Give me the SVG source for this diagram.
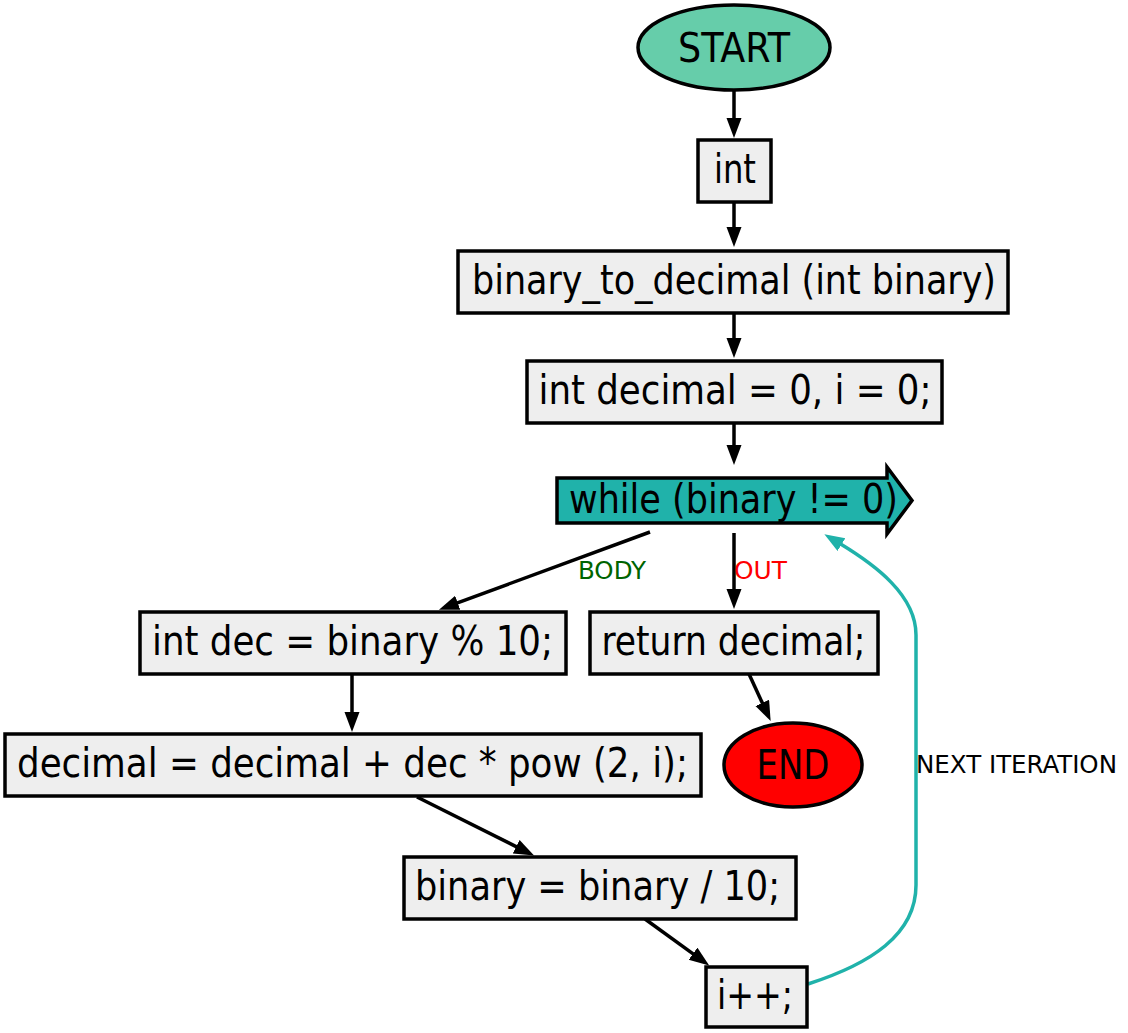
<svg xmlns="http://www.w3.org/2000/svg" width="1128" height="1033" viewBox="0 0 1128 1033">
<style>
  .box { fill: #eeeeee; stroke: #000; stroke-width: 3.5; }
  .lbl { font-family: "DejaVu Sans", "Liberation Sans", sans-serif; font-stretch: condensed; font-size: 40px; fill: #000; text-anchor: middle; }
  .elbl { font-family: "DejaVu Sans", "Liberation Sans", sans-serif; font-stretch: condensed; font-size: 25px; }
  .edge { fill: none; stroke: #000; stroke-width: 3.5; }
  .loop { fill: none; stroke: #20b2aa; stroke-width: 3.5; }
</style>
<defs>
  <marker id="ah" markerUnits="userSpaceOnUse" markerWidth="21" markerHeight="16" refX="1" refY="7.5" orient="auto">
    <path d="M0,0 L20,7.5 L0,15 z" fill="#000"/>
  </marker>
  <marker id="ahc" markerUnits="userSpaceOnUse" markerWidth="21" markerHeight="16" refX="1" refY="7.5" orient="auto">
    <path d="M0,0 L20,7.5 L0,15 z" fill="#20b2aa"/>
  </marker>
</defs>
<rect width="1128" height="1033" fill="#fff"/>

<g id="connectors">
  <line class="edge" x1="734" y1="91" x2="734" y2="119" marker-end="url(#ah)"/>
  <line class="edge" x1="734" y1="202" x2="734" y2="228" marker-end="url(#ah)"/>
  <line class="edge" x1="734" y1="313" x2="734" y2="339" marker-end="url(#ah)"/>
  <line class="edge" x1="734" y1="423" x2="734" y2="446" marker-end="url(#ah)"/>
  <line class="edge" x1="650" y1="532" x2="456.8" y2="603.1" marker-end="url(#ah)"/>
  <line class="edge" x1="734" y1="533" x2="734" y2="590" marker-end="url(#ah)"/>
  <line class="edge" x1="352" y1="674" x2="352" y2="713" marker-end="url(#ah)"/>
  <line class="edge" x1="749" y1="674" x2="762.7" y2="703.8" marker-end="url(#ah)"/>
  <line class="edge" x1="417" y1="797" x2="517.1" y2="847.1" marker-end="url(#ah)"/>
  <line class="edge" x1="645" y1="919" x2="693.8" y2="954.3" marker-end="url(#ah)"/>
  <path class="loop" d="M808,984 C870,964 916,935 916,885 L916,635 C916,595 875,565 840.6,544.1" marker-end="url(#ahc)"/>
  <text class="elbl" x="578" y="579" fill="#006400" textLength="68" lengthAdjust="spacingAndGlyphs">BODY</text>
  <text class="elbl" x="734" y="579" fill="#ff0000" textLength="53" lengthAdjust="spacingAndGlyphs">OUT</text>
  <text class="elbl" x="916" y="773" fill="#000" textLength="201" lengthAdjust="spacingAndGlyphs">NEXT ITERATION</text>
</g>

<g id="start">
  <ellipse cx="734" cy="47.5" rx="96" ry="42.5" fill="#66cdaa" stroke="#000" stroke-width="3.5"/>
  <text class="lbl" x="734" y="62" textLength="112" lengthAdjust="spacingAndGlyphs">START</text>
</g>
<g id="n_int">
  <rect class="box" x="698" y="140" width="73" height="62"/>
  <text class="lbl" x="735" y="183" textLength="42" lengthAdjust="spacingAndGlyphs">int</text>
</g>
<g id="n_func">
  <rect class="box" x="458" y="251" width="550" height="62"/>
  <text class="lbl" x="734" y="294" textLength="524" lengthAdjust="spacingAndGlyphs">binary_to_decimal (int binary)</text>
</g>
<g id="n_decl">
  <rect class="box" x="527" y="361" width="415" height="62"/>
  <text class="lbl" x="735" y="404" textLength="393" lengthAdjust="spacingAndGlyphs">int decimal = 0, i = 0;</text>
</g>
<g id="n_while">
  <polygon points="557,478 887,478 887,467 912,500.5 887,534 887,523 557,523" fill="#20b2aa" stroke="#000" stroke-width="3.5" stroke-linejoin="miter"/>
  <text class="lbl" x="733.5" y="513" textLength="329" lengthAdjust="spacingAndGlyphs">while (binary != 0)</text>
</g>
<g id="n_dec">
  <rect class="box" x="140" y="612" width="426" height="62"/>
  <text class="lbl" x="352.5" y="655" textLength="401" lengthAdjust="spacingAndGlyphs">int dec = binary % 10;</text>
</g>
<g id="n_return">
  <rect class="box" x="590" y="612" width="288" height="62"/>
  <text class="lbl" x="733.5" y="655" textLength="264" lengthAdjust="spacingAndGlyphs">return decimal;</text>
</g>
<g id="n_end">
  <ellipse cx="793" cy="765" rx="69" ry="42" fill="#ff0000" stroke="#000" stroke-width="3.5"/>
  <text class="lbl" x="793" y="779" textLength="73" lengthAdjust="spacingAndGlyphs">END</text>
</g>
<g id="n_sum">
  <rect class="box" x="5" y="734" width="696" height="62"/>
  <text class="lbl" x="352.5" y="777" textLength="671" lengthAdjust="spacingAndGlyphs">decimal = decimal + dec * pow (2, i);</text>
</g>
<g id="n_div">
  <rect class="box" x="404" y="857" width="392" height="62"/>
  <text class="lbl" x="597.5" y="900" textLength="365" lengthAdjust="spacingAndGlyphs">binary = binary / 10;</text>
</g>
<g id="n_inc">
  <rect class="box" x="706" y="967" width="101" height="60"/>
  <text class="lbl" x="755" y="1009" textLength="76" lengthAdjust="spacingAndGlyphs">i++;</text>
</g>
</svg>
